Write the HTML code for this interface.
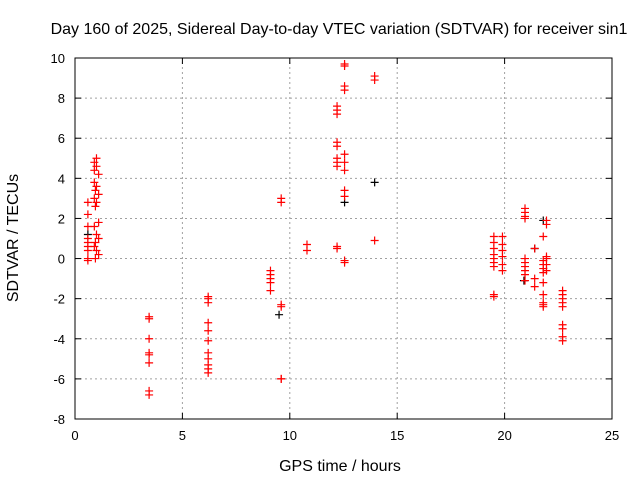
<!DOCTYPE html>
<html><head><meta charset="utf-8"><style>
body{margin:0;background:#fff;width:640px;height:480px;overflow:hidden}
svg{font-family:"Liberation Sans",sans-serif}
</style></head><body>
<svg id="chart" width="640" height="480" viewBox="0 0 640 480">
<text x="339" y="34" font-size="16" text-anchor="middle">Day 160 of 2025, Sidereal Day-to-day VTEC variation (SDTVAR) for receiver sin1</text>
<text x="340" y="471" font-size="16" text-anchor="middle">GPS time / hours</text>
<text transform="translate(18,238) rotate(-90)" font-size="16" text-anchor="middle">SDTVAR / TECUs</text>
<g id="grid"></g><g id="axes"></g><g id="black"></g><g id="red"></g>
<rect x="75" y="58" width="537" height="361" fill="none" stroke="#000" stroke-width="1"/>
</svg>
<script>
const xTicks=[0,5,10,15,20,25];
const yTicks=[-8,-6,-4,-2,0,2,4,6,8,10];
const redX=[0.6,0.6,0.6,0.6,0.6,0.6,0.6,0.6,0.6,
1.0,0.9,1.0,0.9,1.1,0.9,1.0,0.95,1.1,0.9,1.0,0.95,1.1,0.9,1.0,1.1,0.95,0.9,1.0,1.1,0.95,
3.45,3.45,3.45,3.45,3.45,3.45,3.45,3.45,
6.2,6.2,6.2,6.2,6.2,6.2,6.2,6.2,6.2,6.2,6.2,
9.1,9.1,9.1,9.1,9.1,
9.6,9.6,9.6,9.6,9.6,9.6,
10.8,10.8,
12.2,12.2,12.2,12.2,12.2,12.2,12.2,12.2,12.2,12.2,
12.55,12.55,12.55,12.55,12.55,12.55,12.55,12.55,12.55,12.55,12.55,
13.95,13.95,13.95,
19.5,19.5,19.5,19.5,19.5,19.5,19.5,19.5,19.5,
19.9,19.9,19.9,19.9,19.9,19.9,
20.95,20.95,20.95,20.95,20.95,20.95,20.95,20.95,20.95,20.95,
21.4,21.4,21.4,
21.8,21.8,21.8,21.8,21.8,21.8,21.8,21.8,21.8,21.8,
21.95,21.95,21.95,21.95,21.95,21.95,
22.7,22.7,22.7,22.7,22.7,22.7,22.7,22.7,22.7];
const redY=[2.8,2.2,1.6,1.0,0.6,0.4,0,-0.1,0.8,
5.0,4.8,4.6,4.4,4.2,3.8,3.6,3.4,3.2,3.0,2.8,2.6,1.8,1.6,1.2,1.0,0.8,0.6,0.4,0.2,0,
-2.9,-3.0,-4.0,-4.7,-4.8,-5.2,-6.6,-6.8,
-1.9,-2.0,-2.2,-3.2,-3.6,-4.1,-4.7,-5.0,-5.3,-5.5,-5.7,
-0.6,-0.8,-1.0,-1.2,-1.6,
3.0,2.8,-2.3,-2.4,-6.0,-6.0,
0.7,0.4,
7.6,7.4,7.2,5.8,5.6,5.0,4.8,4.6,0.6,0.5,
9.7,9.6,8.6,8.4,5.2,4.8,4.4,3.4,3.1,-0.1,-0.2,
9.1,8.9,0.9,
1.1,0.8,0.5,0.2,0,-0.2,-0.4,-1.8,-1.9,
1.1,0.7,0.4,0.1,-0.3,-0.6,
2.5,2.3,2.1,2.0,0,-0.2,-0.4,-0.6,-0.8,-1.1,
0.5,-1.0,-1.4,
1.1,-0.1,-0.3,-0.5,-2.2,-2.4,-2.3,-0.7,-1.2,-1.8,
1.9,1.7,0.1,0,-0.3,-0.6,
-1.6,-1.8,-2.0,-2.2,-2.4,-3.3,-3.5,-3.9,-4.1];
const blackX=[0.6,9.5,12.55,13.95,21.4,21.8,20.9];
const blackY=[1.2,-2.8,2.8,3.8,0.5,1.9,-1.1];
const NS="http://www.w3.org/2000/svg";
const X0=75,X1=612,Y0=419,Y1=58;
function sx(v){return X0+(v-0)/(25-0)*(X1-X0);}
function sy(v){return Y0-(v+8)/(10+8)*(Y0-Y1);}
function mk(tag,attrs,parent){const e=document.createElementNS(NS,tag);for(const k in attrs)e.setAttribute(k,attrs[k]);parent.appendChild(e);return e;}
const grid=document.getElementById('grid'),axes=document.getElementById('axes');
xTicks.forEach(t=>{
 const x=sx(t);
 if(t>0&&t<25){const g=mk('line',{x1:x,x2:x,y1:Y0,y2:Y1,stroke:'#a0a0a0','stroke-dasharray':'2,3'},grid);
 
 }
 const l=mk('text',{x:x,y:Y0+21,'font-size':13,'text-anchor':'middle'},axes);l.textContent=t;
 
 
 mk('line',{x1:x,x2:x,y1:Y0,y2:Y0-6,stroke:'#000'},axes);
 mk('line',{x1:x,x2:x,y1:Y1,y2:Y1+6,stroke:'#000'},axes);
});
yTicks.forEach(t=>{
 const y=sy(t);
 if(t>-8&&t<10){const g=mk('line',{x1:X0,x2:X1,y1:y,y2:y,stroke:'#a0a0a0','stroke-dasharray':'2,3'},grid);
 
 }
 const l=mk('text',{x:X0-10,y:y+5,'font-size':13,'text-anchor':'end'},axes);l.textContent=t;
 
 
 mk('line',{x1:X0,x2:X0+6,y1:y,y2:y,stroke:'#000'},axes);
 mk('line',{x1:X1,x2:X1-6,y1:y,y2:y,stroke:'#000'},axes);
});
function plus(g,x,y,col,name){
 const p=mk('path',{d:`M${x-4},${y}h8M${x},${y-4}v8`,stroke:col,'stroke-width':1.2,fill:'none'},g);
 
 
}
const bg=document.getElementById('black'),rg=document.getElementById('red');
blackX.forEach((v,i)=>plus(bg,sx(v),sy(blackY[i]),'#000','black-point'));
redX.forEach((v,i)=>plus(rg,sx(v),sy(redY[i]),'#f00','red-point'));
</script>
</body></html>
